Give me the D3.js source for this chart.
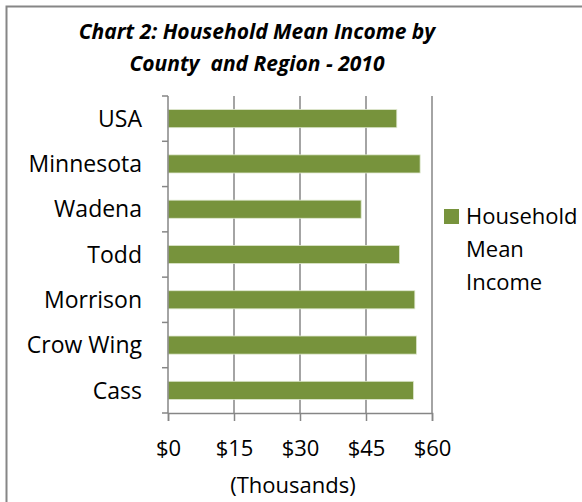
<!DOCTYPE html>
<html>
<head>
<meta charset="utf-8">
<script src="https://cdn.jsdelivr.net/npm/d3@7"></script>
<style>
  html, body { margin: 0; padding: 0; background: #fff; }
  svg text { font-family: "Open Sans", Lato, sans-serif; fill: #000; }
</style>
</head>
<body>
<div id="chart"></div>
<script>
  // data
  const categories = ["USA", "Minnesota", "Wadena", "Todd", "Morrison", "Crow Wing", "Cass"];
  const values = [52.0, 57.3, 43.9, 52.6, 56.1, 56.5, 55.8];
  const xTicks = [0, 15, 30, 45, 60];
  const titleLines = ["Chart 2: Household Mean Income by", "County  and Region - 2010"];
  const legendLines = ["Household", "Mean", "Income"];
  const axisTitle = "(Thousands)";

  const width = 582;
  const height = 502;
  const barColor = "#77933C";
  const gridColor = "#868686";
  const fontFamily = "'Open Sans', Lato, sans-serif";

  const svg = d3.select("#chart")
    .append("svg")
    .attr("width", width)
    .attr("height", height);

  // outer frame (right/bottom run off the picture)
  svg.append("rect")
    .attr("x", 6.5).attr("y", 6.5)
    .attr("width", width + 10).attr("height", height + 10)
    .attr("fill", "none")
    .attr("stroke", gridColor)
    .attr("stroke-width", 2);

  const plot = { left: 168, right: 432, top: 96, bottom: 413 };

  const x = d3.scaleLinear().domain([0, 60]).range([plot.left, plot.right]);
  const y = d3.scaleBand().domain(categories).range([plot.top, plot.bottom]).padding(0);

  // title
  svg.append("g")
    .selectAll("text")
    .data(titleLines)
    .enter()
    .append("text")
    .attr("x", 257)
    .attr("y", (d, i) => 39 + i * 32)
    .attr("text-anchor", "middle")
    .style("white-space", "pre")
    .style("font-size", "21px")
    .style("font-weight", "bold")
    .style("font-style", "italic")
    .text((d) => d);

  // vertical gridlines
  svg.append("g")
    .selectAll("line")
    .data(xTicks.filter((d) => d > 0))
    .enter()
    .append("line")
    .attr("x1", (d) => x(d)).attr("x2", (d) => x(d))
    .attr("y1", plot.top).attr("y2", plot.bottom)
    .attr("stroke", gridColor)
    .attr("stroke-width", 1.5);

  // bars
  svg.append("g")
    .selectAll("rect")
    .data(categories)
    .enter()
    .append("rect")
    .attr("x", x(0))
    .attr("y", (d) => y(d) + y.bandwidth() * 0.3)
    .attr("width", (d, i) => x(values[i]) - x(0))
    .attr("height", y.bandwidth() * 0.4)
    .attr("fill", barColor)
    .attr("stroke", "#dfe8cf")
    .attr("stroke-width", 0.8);

  // y axis
  const yAxis = svg.append("g")
    .attr("transform", `translate(${plot.left},0)`);
  yAxis.append("line")
    .attr("x1", 0).attr("x2", 0)
    .attr("y1", plot.top).attr("y2", plot.bottom)
    .attr("stroke", gridColor).attr("stroke-width", 1.5);
  yAxis.selectAll("line.tick")
    .data(d3.range(categories.length + 1))
    .enter()
    .append("line")
    .attr("class", "tick")
    .attr("x1", -6).attr("x2", 0)
    .attr("y1", (i) => plot.top + i * y.step())
    .attr("y2", (i) => plot.top + i * y.step())
    .attr("stroke", gridColor).attr("stroke-width", 1.5);
  yAxis.selectAll("text")
    .data(categories)
    .enter()
    .append("text")
    .attr("x", -26)
    .attr("y", (d) => y(d) + y.bandwidth() / 2)
    .attr("dy", "0.36em")
    .attr("text-anchor", "end")
    .style("font-size", "23px")
    .text((d) => d);

  // x axis
  const xAxis = svg.append("g")
    .attr("transform", `translate(0,${plot.bottom})`)
    .call(d3.axisBottom(x).tickValues(xTicks).tickSize(8).tickPadding(19).tickFormat((d) => "$" + d));
  xAxis.select(".domain").attr("stroke", gridColor).attr("stroke-width", 1.5);
  xAxis.selectAll(".tick line").attr("stroke", gridColor).attr("stroke-width", 1.5);
  xAxis.selectAll(".tick text")
    .style("font-size", "22px")
    .style("font-family", fontFamily)
    .attr("fill", "#000");

  svg.append("text")
    .attr("x", 293)
    .attr("y", 493)
    .attr("text-anchor", "middle")
    .style("font-size", "22px")
    .text(axisTitle);

  // legend
  const legend = svg.append("g");
  legend.append("rect")
    .attr("x", 444).attr("y", 209)
    .attr("width", 15).attr("height", 15)
    .attr("fill", barColor);
  legend.selectAll("text")
    .data(legendLines)
    .enter()
    .append("text")
    .attr("x", 466)
    .attr("y", (d, i) => 224 + i * 33)
    .style("font-size", "22px")
    .text((d) => d);
</script>
</body>
</html>
